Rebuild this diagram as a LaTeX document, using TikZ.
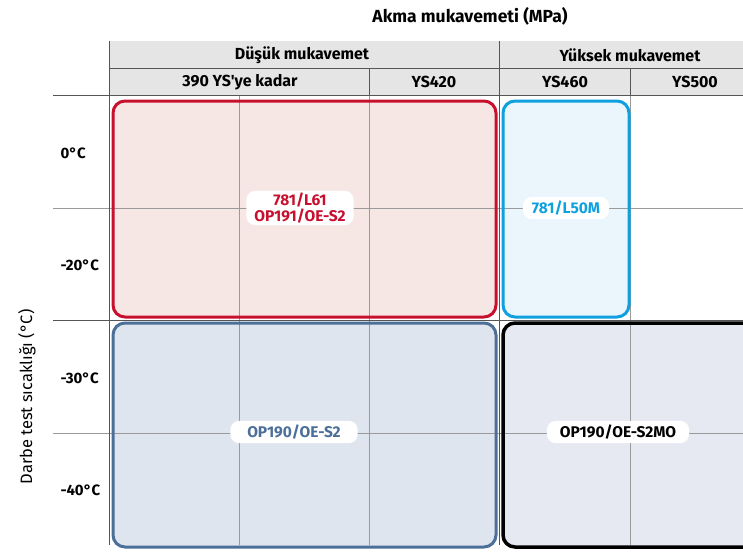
\documentclass[tikz,border=0pt]{standalone}
\usepackage{fontspec}
\setmainfont{Fira Sans}[Ligatures=TeXOff]
\definecolor{lowred}{HTML}{C8102E}
\definecolor{lowredfill}{HTML}{F7E7E4}
\definecolor{hicyan}{HTML}{0FA0DF}
\definecolor{hicyanfill}{HTML}{EAF5FC}
\definecolor{steel}{HTML}{4B6F99}
\definecolor{steelfill}{HTML}{DFE5EE}
\definecolor{blackfill}{HTML}{E6E9F1}
\definecolor{hdrgray}{HTML}{E5E5E5}
\definecolor{hdrline}{HTML}{555555}
\definecolor{gridgray}{HTML}{9A9A9A}
\tikzset{
  hdrtext/.style={font=\fontsize{16}{18}\selectfont\bfseries},
  rowtext/.style={font=\fontsize{15}{17}\selectfont\bfseries, anchor=west},
  zone/.style={rounded corners=12pt, line width=3pt},
  pill/.style={fill=white, rounded corners=9pt, inner xsep=17pt, inner ysep=4pt,
    font=\fontsize{15.5}{16}\selectfont\bfseries, align=center},
}
\begin{document}
\begin{tikzpicture}[x=1pt,y=-1pt]
\useasboundingbox (0,0) rectangle (743,557);
\begin{scope}
\clip (0,0) rectangle (743,557);
% header band
\fill[hdrgray] (109,41) rectangle (770,95);
% zone fills
\fill[lowredfill, rounded corners=12pt] (113,101) rectangle (496,317);
\fill[hicyanfill, rounded corners=12pt] (503,101) rectangle (629,317);
\fill[steelfill, rounded corners=12pt] (113,323) rectangle (496,547);
\fill[blackfill, rounded corners=12pt] (503,323) rectangle (780,547);
% grid
\draw[gridgray] (239,95) -- (239,545);
\draw[gridgray] (369,95) -- (369,545);
\draw[gridgray] (630,95) -- (630,545);
\draw[gridgray] (53,208) -- (760,208);
\draw[gridgray] (53,433) -- (760,433);
\draw[hdrline] (499,41) -- (499,545);
\draw[hdrline] (109,41) -- (109,545);
\draw[hdrline] (369,68) -- (369,95);
\draw[hdrline] (630,68) -- (630,95);
\draw[hdrline] (109,68) -- (760,68);
\draw[hdrline] (53,95) -- (760,95);
\draw[hdrline] (53,320) -- (760,320);
% zone borders
\draw[zone, lowred] (113,101) rectangle (496,317);
\draw[zone, hicyan] (503,101) rectangle (629,317);
\draw[zone, steel] (113,323) rectangle (496,547);
\draw[zone, black, line width=3.5pt] (503,323) rectangle (780,547);
\end{scope}
% titles
\node[hdrtext, font=\fontsize{17.5}{19}\selectfont\bfseries] (title) at (470,16) {Akma mukavemeti (MPa)};
\node[hdrtext] (low) at (302,55) {Düşük mukavemet};
\node[hdrtext] (high) at (630,55) {Yüksek mukavemet};
\node[hdrtext] (ys390) at (240,82) {390 YS'ye kadar};
\node[hdrtext] (ys420) at (434,82) {YS420};
\node[hdrtext] (ys460) at (565,82) {YS460};
\node[hdrtext] (ys500) at (695,82) {YS500};
% temperatures
\node[rowtext] (t0) at (57,153) {0°C};
\node[rowtext] (t20) at (57,265) {-20°C};
\node[rowtext] (t30) at (57,378) {-30°C};
\node[rowtext] (t40) at (57,490) {-40°C};
\node[rotate=90, font=\fontsize{16.5}{18}\selectfont] (yaxis) at (27,397) {Darbe test sıcaklığı (°C)};
% products
\node[pill, text=lowred, inner xsep=8pt, inner ysep=2pt] (redlabel) at (300,208) {781/L61\\OP191/OE-S2};
\node[pill, text=hicyan, inner xsep=9pt] (cyanlabel) at (566,208) {781/L50M};
\node[pill, text=steel] (steellabel) at (294,432) {OP190/OE-S2};
\node[pill, text=black, inner xsep=13pt] (blacklabel) at (618,432) {OP190/OE-S2MO};
\end{tikzpicture}
\end{document}
